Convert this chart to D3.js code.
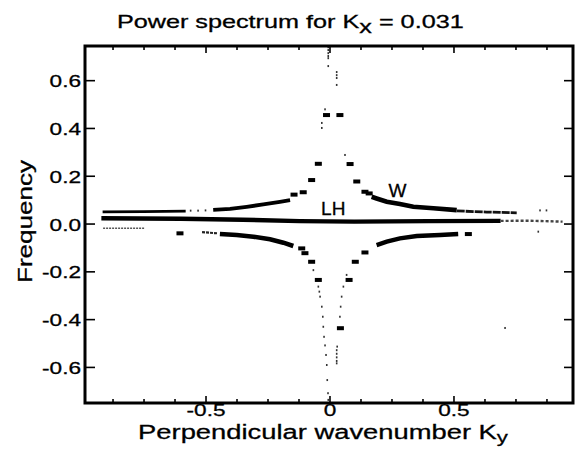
<!DOCTYPE html>
<html><head><meta charset="utf-8">
<script src="https://cdn.jsdelivr.net/npm/d3@7"></script>
<style>
body{margin:0;background:#fff}
svg{display:block}
text{font-family:"Liberation Sans",Arial,Helvetica,sans-serif;fill:#000;stroke:#000;stroke-width:0.3px}
</style>
</head><body>
<svg id="c" width="578" height="458"></svg>
<script>
// ---------------- DATA ----------------
const titleMain = "Power spectrum for K";
const titleSub = "x";
const titleTail = " = 0.031";
const xLabelMain = "Perpendicular wavenumber K";
const xLabelSub = "y";
const yLabel = "Frequency";

const xDomain = [-0.986, 0.982];
const yDomain = [-0.751, 0.743];
const xTicksMajor = [-0.5, 0, 0.5];
const xTickLabels = ["-0.5", "0", "0.5"];
const xTicksMinor = [-0.875, -0.75, -0.625, -0.375, -0.25, -0.125, 0.125, 0.25, 0.375, 0.625, 0.75, 0.875];
const yTicks = [-0.6, -0.4, -0.2, 0, 0.2, 0.4, 0.6];
const yTickLabels = ["-0.6", "-0.4", "-0.2", "0.0", "0.2", "0.4", "0.6"];

// whistler (W) branch, positive frequency
const wLeftFaint = [[-0.915, 0.049], [-0.75, 0.050], [-0.58, 0.052]];
const wLeft = [[-0.469, 0.057], [-0.401, 0.061], [-0.334, 0.070], [-0.267, 0.080], [-0.200, 0.091], [-0.159, 0.098]];
const wRight = [[0.170, 0.112], [0.190, 0.105], [0.231, 0.091], [0.284, 0.082], [0.338, 0.070], [0.419, 0.064], [0.513, 0.056]];
const wRightTail = [[0.513, 0.053], [0.634, 0.048], [0.755, 0.045]];
const upperPeaks = [[-0.143, 0.121], [-0.106, 0.131], [-0.072, 0.182], [-0.045, 0.250], [-0.012, 0.454],
                    [0.042, 0.454], [0.083, 0.249], [0.110, 0.176], [0.143, 0.133], [0.160, 0.126]];
// lower hybrid (LH) band
const lhBand = [[-0.92, 0.022], [-0.60, 0.020], [-0.35, 0.016], [-0.12, 0.010], [0.10, 0.008], [0.40, 0.010], [0.69, 0.011]];
const lhTail = [[0.69, 0.011], [0.80, 0.012], [0.94, 0.008]];
const negFaint = [[-0.913, -0.020], [-0.744, -0.020]];
// negative-frequency branch
const lowerLeftFaint = [[-0.514, -0.036], [-0.450, -0.041]];
const lowerLeft = [[-0.442, -0.044], [-0.374, -0.048], [-0.307, -0.055], [-0.240, -0.066], [-0.186, -0.080], [-0.146, -0.094]];
const lowerRight = [[0.190, -0.090], [0.231, -0.076], [0.284, -0.062], [0.352, -0.052], [0.446, -0.048], [0.519, -0.044]];
const lowerPeaks = [[-0.603, -0.041], [-0.112, -0.104], [-0.099, -0.124], [-0.072, -0.160], [-0.045, -0.236],
                    [0.079, -0.236], [0.104, -0.160], [0.143, -0.121], [0.560, -0.044], [0.044, -0.438]];
// sparse weak points
const scatterDots = [
  [-0.005, 0.738], [-0.005, 0.726], [-0.005, 0.713], [-0.005, 0.701], [-0.005, 0.692], [-0.005, 0.659],
  [0.029, 0.634], [0.029, 0.621], [0.029, 0.609], [0.029, 0.580],
  [-0.018, 0.478], [-0.031, 0.421], [-0.031, 0.400], [0.0625, 0.287],
  [-0.065, -0.195], [-0.045, -0.264], [-0.041, -0.285], [-0.038, -0.306], [-0.031, -0.348], [-0.027, -0.390],
  [-0.025, -0.432], [-0.022, -0.474], [-0.018, -0.510], [-0.014, -0.550], [-0.011, -0.592], [-0.009, -0.655],
  [-0.006, -0.710], [-0.005, -0.738],
  [0.069, -0.215], [0.056, -0.264], [0.049, -0.306], [0.045, -0.348], [0.042, -0.390],
  [0.031, -0.515], [0.029, -0.530], [0.029, -0.545], [0.029, -0.560], [0.029, -0.575], [0.029, -0.585],
  [0.708, -0.437], [0.842, -0.034], [0.849, 0.055], [0.875, 0.055],
  [-0.56, 0.054], [-0.53, 0.054], [-0.50, 0.055]
];
const annotations = [{text: "W", u: 0.274, v: 0.111}, {text: "LH", u: 0.015, v: 0.036}];

// ---------------- CHART ----------------
const svg = d3.select("#c");
const L = 85, R = 573, T = 46, B = 403;
const x = d3.scaleLinear().domain(xDomain).range([L, R]);
const y = d3.scaleLinear().domain(yDomain).range([B, T]);

const line = d3.line().x(d => x(d[0])).y(d => y(d[1]));
function band(data, w, color, dash) {
  svg.append("path").datum(data).attr("d", line)
    .attr("fill", "none").attr("stroke", color).attr("stroke-width", w)
    .attr("stroke-dasharray", dash || null);
}
band(wLeftFaint, 2.8, "#000");
band(wLeft, 3.8, "#000");
band(wRight, 4.6, "#000");
band(wRightTail, 2.8, "#111", "8,1");
band(lhBand, 4.4, "#000");
band(lhTail, 2.4, "#444", "3,2");
band(negFaint, 1.4, "#555", "2,1");
band(lowerLeftFaint, 2.2, "#222", "3,1");
band(lowerLeft, 4.6, "#000");
band(lowerRight, 4.4, "#000");

svg.append("g").selectAll("rect").data(upperPeaks.concat(lowerPeaks)).join("rect")
  .attr("x", d => x(d[0]) - 3.5).attr("y", d => y(d[1]) - 2)
  .attr("width", 7).attr("height", 4).attr("fill", "#000");

svg.append("g").selectAll("rect").data(scatterDots).join("rect")
  .attr("x", d => x(d[0]) - 0.8).attr("y", d => y(d[1]) - 1)
  .attr("width", 1.6).attr("height", 2).attr("fill", "#333");

svg.append("g").selectAll("text").data(annotations).join("text")
  .attr("x", d => x(d.u)).attr("y", d => y(d.v))
  .attr("text-anchor", "middle").attr("font-size", 19).text(d => d.text);

// axes
function styleAxis(g) {
  g.select(".domain").remove();
  g.selectAll(".tick line").attr("stroke", "#000").attr("stroke-width", 1.6);
}
const sx = 1.33;
svg.append("g").attr("transform", `translate(0,${B})`)
  .call(d3.axisBottom(x).tickValues(xTicksMinor).tickSize(-4).tickFormat("")).call(styleAxis);
const xb = svg.append("g").attr("transform", `translate(0,${B})`)
  .call(d3.axisBottom(x).tickValues(xTicksMajor).tickSize(-7).tickFormat((d, i) => xTickLabels[i])).call(styleAxis);
xb.selectAll("text").attr("font-size", 17).attr("font-family", null).attr("fill", "#000")
  .attr("y", 12.6).attr("dy", null).attr("transform", `scale(${sx},1)`);
svg.append("g").attr("transform", `translate(0,${T})`)
  .call(d3.axisTop(x).tickValues(xTicksMinor).tickSize(-4).tickFormat("")).call(styleAxis);
svg.append("g").attr("transform", `translate(0,${T})`)
  .call(d3.axisTop(x).tickValues(xTicksMajor).tickSize(-7).tickFormat("")).call(styleAxis);
const yl = svg.append("g").attr("transform", `translate(${L},0)`)
  .call(d3.axisLeft(y).tickValues(yTicks).tickSize(-10).tickFormat((d, i) => yTickLabels[i])).call(styleAxis);
yl.selectAll("text").attr("font-size", 17).attr("font-family", null).attr("fill", "#000")
  .attr("x", -4 / sx).attr("dy", "0.38em").attr("transform", `scale(${sx},1)`);
svg.append("g").attr("transform", `translate(${R},0)`)
  .call(d3.axisRight(y).tickValues(yTicks).tickSize(-9).tickFormat("")).call(styleAxis);

svg.append("rect").attr("x", L).attr("y", T).attr("width", R - L).attr("height", B - T)
  .attr("fill", "none").attr("stroke", "#000").attr("stroke-width", 3);

// titles
function fitText(g, target) {
  const t = g.select("text");
  const w = t.node().getComputedTextLength();
  t.attr("transform", `scale(${target / w},1)`);
}
const tg = svg.append("g").attr("transform", "translate(290.3,28.3)");
const tt = tg.append("text").attr("text-anchor", "middle").attr("font-size", 18.5);
tt.append("tspan").text(titleMain);
tt.append("tspan").attr("dy", 5).text(titleSub);
tt.append("tspan").attr("dy", -5).text(titleTail);
fitText(tg, 347);

const xg = svg.append("g").attr("transform", "translate(323,438.6)");
const xt = xg.append("text").attr("text-anchor", "middle").attr("font-size", 21);
xt.append("tspan").text(xLabelMain);
xt.append("tspan").attr("dy", 4).attr("font-size", 17).text(xLabelSub);
fitText(xg, 370);

const yg = svg.append("g").attr("transform", "translate(32,221.5) rotate(-90)");
yg.append("text").attr("text-anchor", "middle").attr("font-size", 21).text(yLabel);
fitText(yg, 123);
</script>
</body></html>
